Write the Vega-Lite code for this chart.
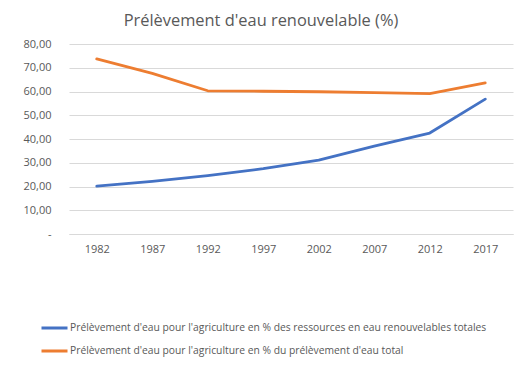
{
  "$schema": "https://vega.github.io/schema/vega-lite/v6.json",
  "width": 444,
  "height": 190,
  "autosize": {"type": "none"},
  "padding": {"left": 69, "top": 44, "right": 14, "bottom": 136},
  "background": "white",
  "title": {
    "text": "Prélèvement d'eau renouvelable (%)",
    "anchor": "middle",
    "font": "Open Sans",
    "fontSize": 16.4,
    "fontWeight": "normal",
    "color": "#595959",
    "offset": 9,
    "dx": -30
  },
  "data": {
    "values": [
      {"year": "1982", "serie": "Prélèvement d'eau pour l'agriculture en % des ressources en eau renouvelables totales", "value": 20.2},
      {"year": "1987", "serie": "Prélèvement d'eau pour l'agriculture en % des ressources en eau renouvelables totales", "value": 22.2},
      {"year": "1992", "serie": "Prélèvement d'eau pour l'agriculture en % des ressources en eau renouvelables totales", "value": 24.6},
      {"year": "1997", "serie": "Prélèvement d'eau pour l'agriculture en % des ressources en eau renouvelables totales", "value": 27.5},
      {"year": "2002", "serie": "Prélèvement d'eau pour l'agriculture en % des ressources en eau renouvelables totales", "value": 31.1},
      {"year": "2007", "serie": "Prélèvement d'eau pour l'agriculture en % des ressources en eau renouvelables totales", "value": 37.0},
      {"year": "2012", "serie": "Prélèvement d'eau pour l'agriculture en % des ressources en eau renouvelables totales", "value": 42.5},
      {"year": "2017", "serie": "Prélèvement d'eau pour l'agriculture en % des ressources en eau renouvelables totales", "value": 56.8},
      {"year": "1982", "serie": "Prélèvement d'eau pour l'agriculture en % du prélèvement d'eau total", "value": 73.7},
      {"year": "1987", "serie": "Prélèvement d'eau pour l'agriculture en % du prélèvement d'eau total", "value": 67.6},
      {"year": "1992", "serie": "Prélèvement d'eau pour l'agriculture en % du prélèvement d'eau total", "value": 60.3},
      {"year": "1997", "serie": "Prélèvement d'eau pour l'agriculture en % du prélèvement d'eau total", "value": 60.1},
      {"year": "2002", "serie": "Prélèvement d'eau pour l'agriculture en % du prélèvement d'eau total", "value": 59.9},
      {"year": "2007", "serie": "Prélèvement d'eau pour l'agriculture en % du prélèvement d'eau total", "value": 59.5},
      {"year": "2012", "serie": "Prélèvement d'eau pour l'agriculture en % du prélèvement d'eau total", "value": 59.1},
      {"year": "2017", "serie": "Prélèvement d'eau pour l'agriculture en % du prélèvement d'eau total", "value": 63.6}
    ]
  },
  "mark": {"type": "line", "strokeWidth": 2.8, "strokeCap": "round", "strokeJoin": "round"},
  "encoding": {
    "x": {
      "field": "year",
      "type": "ordinal",
      "scale": {"type": "point", "padding": 0.5},
      "axis": {
        "title": null,
        "labelAngle": 0,
        "ticks": false,
        "domain": true,
        "domainColor": "#d9d9d9",
        "labelFont": "Open Sans",
        "labelFontSize": 11,
        "labelColor": "#595959",
        "labelPadding": 9,
        "grid": false
      }
    },
    "y": {
      "field": "value",
      "type": "quantitative",
      "scale": {"domain": [0, 80]},
      "axis": {
        "title": null,
        "values": [0, 10, 20, 30, 40, 50, 60, 70, 80],
        "labelExpr": "datum.value == 0 ? '-\u00a0\u00a0\u00a0\u00a0' : replace(format(datum.value, '.2f'), '.', ',')",
        "ticks": false,
        "domain": false,
        "grid": true,
        "gridColor": "#d9d9d9",
        "gridWidth": 1,
        "labelFont": "Open Sans",
        "labelFontSize": 11,
        "labelColor": "#595959",
        "labelPadding": 18
      }
    },
    "color": {
      "field": "serie",
      "type": "nominal",
      "scale": {
        "domain": [
          "Prélèvement d'eau pour l'agriculture en % des ressources en eau renouvelables totales",
          "Prélèvement d'eau pour l'agriculture en % du prélèvement d'eau total"
        ],
        "range": ["#4472C4", "#ED7D31"]
      },
      "legend": {
        "title": null,
        "orient": "none",
        "legendX": -29,
        "legendY": 277,
        "direction": "vertical",
        "symbolType": "stroke",
        "symbolSize": 676,
        "symbolStrokeWidth": 3,
        "labelFont": "Open Sans",
        "labelFontSize": 10.3,
        "labelColor": "#595959",
        "labelLimit": 0,
        "clipHeight": 14,
        "rowPadding": 9,
        "labelOffset": 1
      }
    }
  },
  "config": {"view": {"stroke": null}}
}
